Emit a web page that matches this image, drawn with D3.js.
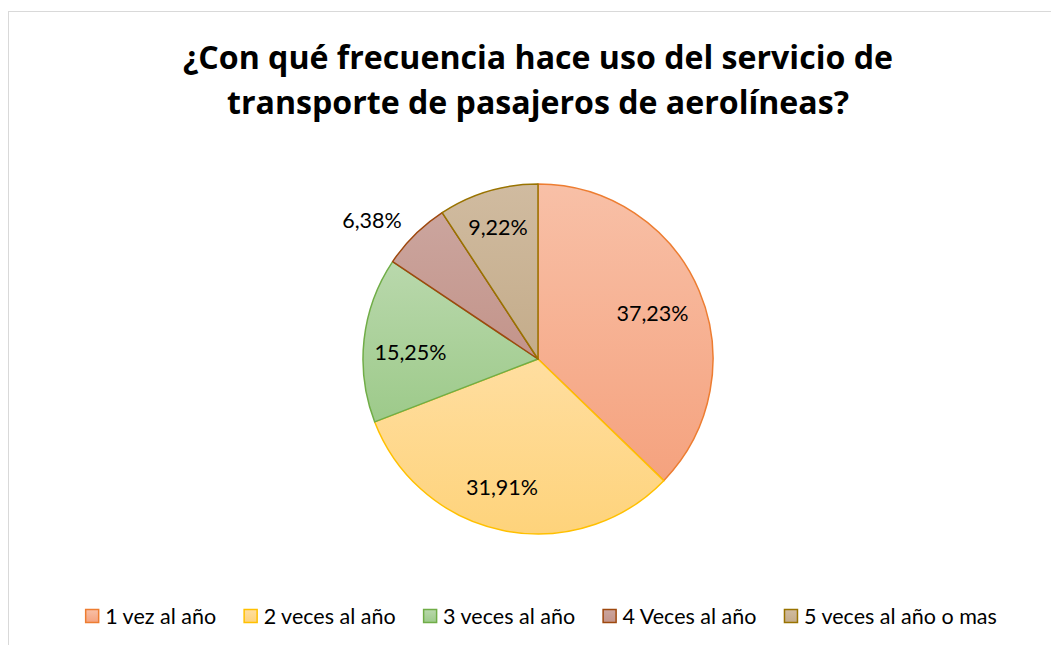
<!DOCTYPE html>
<html><head><meta charset="utf-8">
<script src="https://cdn.jsdelivr.net/npm/d3@7"></script>
<style>body{margin:0;background:#fff;} svg{display:block;}</style>
</head><body>
<svg id="chart" width="1051" height="645"></svg>
<script>
const titleLines = ["¿Con qué frecuencia hace uso del servicio de", "transporte de pasajeros de aerolíneas?"];
const categories = ["1 vez al año", "2 veces al año", "3 veces al año", "4 Veces al año", "5 veces al año o mas"];
const values = [37.23, 31.91, 15.25, 6.38, 9.22];
const labels = ["37,23%", "31,91%", "15,25%", "6,38%", "9,22%"];

const strokeColors = ["#ED7D31", "#FFC000", "#70AD47", "#9E480E", "#997300"];
const fillTop = ["#F8C0A7", "#FFDEA0", "#B9D8AC", "#CBA59E", "#D0BBA0"];
const fillBottom = ["#F5A27E", "#FED37B", "#9DCA8A", "#C3948A", "#C4AC8A"];
// label placement (fraction of radius, position within slice)
const labelRadius = [0.704, 0.765, 0.73, 1.237, 0.785];
const labelAngleFrac = [0.51, 0.536, 0.44, 0.265, 0.49];

const svg = d3.select("#chart");
const W = 1051, H = 645;
const bodyFont = "Lato, 'Open Sans', sans-serif";
const titleFont = "'Open Sans', Lato, sans-serif";

svg.append("rect").attr("x", 8.5).attr("y", 11.5).attr("width", W + 10).attr("height", H + 10)
  .attr("fill", "#fff").attr("stroke", "#D9D9D9").attr("stroke-width", 1);

const defs = svg.append("defs");
categories.forEach((c, i) => {
  const g = defs.append("linearGradient").attr("id", "g" + i)
    .attr("x1", 0).attr("y1", 0).attr("x2", 0).attr("y2", 1);
  g.append("stop").attr("offset", "0%").attr("stop-color", fillTop[i]);
  g.append("stop").attr("offset", "100%").attr("stop-color", fillBottom[i]);
});

// title, fitted to reference width
const titleSel = svg.append("g").selectAll("text").data(titleLines).join("text")
  .attr("x", 538).attr("y", (d, i) => 69 + i * 45)
  .attr("text-anchor", "middle")
  .attr("font-family", titleFont).attr("font-weight", "bold").attr("font-size", 30)
  .attr("fill", "#000").text(d => d);
const tw = titleSel.nodes()[0].getComputedTextLength();
titleSel.attr("font-size", 30 * 710 / tw);

const cx = 538, cy = 359, R = 175;
const pie = d3.pie().sort(null).value(d => d)(values);
const arc = d3.arc().innerRadius(0).outerRadius(R);
const g = svg.append("g").attr("transform", `translate(${cx},${cy})`);
g.selectAll("path").data(pie).join("path")
  .attr("d", arc)
  .attr("fill", (d, i) => `url(#g${i})`)
  .attr("stroke", (d, i) => strokeColors[i])
  .attr("stroke-width", 1.5)
  .attr("stroke-linejoin", "round");

const bodySize = 21.5;
g.selectAll("text").data(pie).join("text")
  .attr("transform", (d, i) => {
    const a = d.startAngle + (d.endAngle - d.startAngle) * labelAngleFrac[i];
    const r = R * labelRadius[i];
    return `translate(${r * Math.sin(a)},${-r * Math.cos(a)})`;
  })
  .attr("text-anchor", "middle").attr("dy", "0.35em")
  .attr("font-family", bodyFont).attr("font-size", bodySize).attr("fill", "#000")
  .text((d, i) => labels[i]);

// legend laid out sequentially and centred
const leg = svg.append("g");
const items = categories.map((c, i) => {
  const it = leg.append("g");
  it.append("rect").attr("x", 0.5).attr("y", -6.5).attr("width", 13).attr("height", 13)
    .attr("fill", `url(#g${i})`).attr("stroke", strokeColors[i]).attr("stroke-width", 1.5);
  const t = it.append("text").attr("x", 20).attr("y", 0).attr("dy", "0.35em")
    .attr("font-family", bodyFont).attr("font-size", bodySize).attr("fill", "#000").text(c);
  return { it, w: 20 + t.node().getComputedTextLength() };
});
const gap = 27.5;
const total = d3.sum(items, d => d.w) + gap * (items.length - 1);
let x = 541 - total / 2;
items.forEach(d => { d.it.attr("transform", `translate(${x},616)`); x += d.w + gap; });
</script>
</body></html>
